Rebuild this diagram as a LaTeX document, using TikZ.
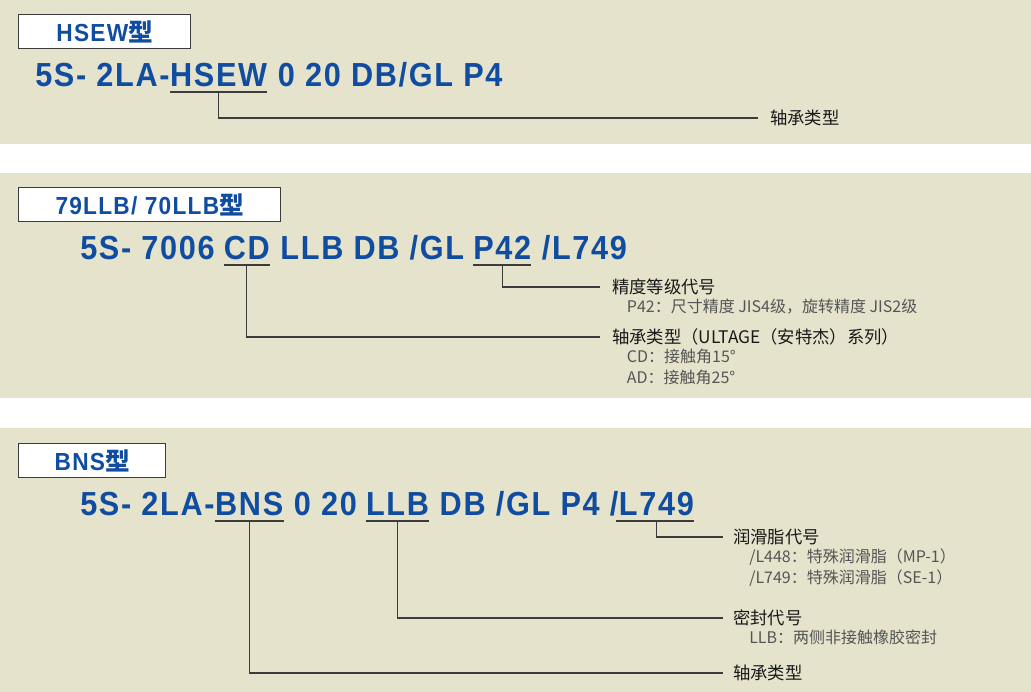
\documentclass[tikz,border=0pt]{standalone}
\usepackage{fontspec}
\usetikzlibrary{positioning}
\newfontfamily\codefont[FakeStretch=0.92,LetterSpace=5]{Liberation Sans}
\newfontfamily\cjk{Noto Sans CJK SC}
\definecolor{panelbg}{RGB}{229,227,204}
\definecolor{codeblue}{RGB}{16,76,160}
\definecolor{leadgray}{RGB}{60,60,60}
\definecolor{subgray}{RGB}{85,85,85}
\newcommand{\xing}{{\cjk\bfseries 型}}

\begin{document}
\begin{tikzpicture}[
    x = 0.75pt, y = -0.75pt,
    panel/.style = {fill = panelbg},
    titlebox/.style = {draw = leadgray, line width = 1pt, fill = white, inner sep = 0pt,
        minimum height = 25.5pt, anchor = north west, text = codeblue,
        font = \codefont\bfseries\fontsize{18.5}{20}\selectfont},
    code/.style = {inner sep = 0pt, anchor = base west, text = codeblue,
        font = \codefont\bfseries\fontsize{25}{28}\selectfont},
    wordgap/.style = {xshift = 6.4pt},
    uline/.style = {draw = leadgray, line width = 0.8pt},
    lead/.style = {draw = leadgray, line width = 0.9pt, shorten > = 9pt},
    lbl/.style = {inner sep = 0pt, anchor = west, text = black!90,
        font = \cjk\fontsize{13}{16}\selectfont},
    subtxt/.style = {inner sep = 0pt, anchor = north west, align = left, text = subgray,
        font = \cjk\fontsize{12}{16}\selectfont}
]
\fill[white] (0,0) rectangle (1031,692);
\fill[panel] (0,0) rectangle (1031,144);
\fill[panel] (0,173) rectangle (1031,398);
\fill[panel] (0,428) rectangle (1031,692);
\useasboundingbox (0,0) rectangle (1031,692);

% HSEW
\node[titlebox, minimum width = 129pt] (hd1) at (18,14) {HSEW\xing};
\node[code] (p1a) at (35,86) {5S- 2LA-};
\node[code] (hsew) at (p1a.base east) {HSEW};
\node[code] (p1b) at (hsew.base east) {\ 0 20 DB/GL P4};
\node[lbl] (type1) at (770,118) {轴承类型};

% 79LLB / 70LLB
\node[titlebox, minimum width = 196.5pt] (hd2) at (18,187) {79LLB/ 70LLB\xing};
\node[code] (p2a) at (80,259) {5S- 7006};
\node[code, wordgap] (cd) at (p2a.base east) {CD};
\node[code] (p2b) at (cd.base east) {\ LLB DB /GL};
\node[code, wordgap] (p42) at (p2b.base east) {P42};
\node[code] (p2c) at (p42.base east) {\ /L749};
\node[lbl] (prec) at (612,287) {精度等级代号};
\node[subtxt] (precsub) at ([xshift = 11pt, yshift = -2.5pt]prec.south west) {P42：尺寸精度 JIS4级，旋转精度 JIS2级};
\node[lbl] (type2) at (612,337) {轴承类型（ULTAGE（安特杰）系列）};
\node[subtxt] (type2sub) at ([xshift = 11pt, yshift = -2.5pt]type2.south west) {CD：接触角15°\\AD：接触角25°};

% BNS
\node[titlebox, minimum width = 110.25pt] (hd3) at (18,443) {BNS\xing};
\node[code] (p3a) at (80,515) {5S- 2LA-};
\node[code] (bns) at (p3a.base east) {BNS};
\node[code] (p3b) at (bns.base east) {\ 0 20};
\node[code, wordgap] (llb) at (p3b.base east) {LLB};
\node[code] (p3c) at (llb.base east) {\ DB /GL P4 /};
\node[code] (l749) at (p3c.base east) {L749};
\node[lbl] (grease) at (733,537) {润滑脂代号};
\node[subtxt] (greasesub) at ([xshift = 12pt, yshift = -2.5pt]grease.south west) {/L448：特殊润滑脂（MP-1）\\/L749：特殊润滑脂（SE-1）};
\node[lbl] (seal) at (733,618) {密封代号};
\node[subtxt] (sealsub) at ([xshift = 12pt, yshift = -2.5pt]seal.south west) {LLB：两侧非接触橡胶密封};
\node[lbl] (type3) at (733,673) {轴承类型};

% underlines
\path[uline]
([yshift = -4.5pt]hsew.base west) edge ([yshift = -4.5pt]hsew.base east)
([yshift = -4.5pt]cd.base west) edge ([yshift = -4.5pt]cd.base east)
([yshift = -4.5pt]p42.base west) edge ([yshift = -4.5pt]p42.base east)
([yshift = -4.5pt]bns.base west) edge ([yshift = -4.5pt]bns.base east)
([yshift = -4.5pt]llb.base west) edge ([yshift = -4.5pt]llb.base east)
([xshift = -2pt, yshift = -4.5pt]l749.base west) edge ([yshift = -4.5pt]l749.base east)
;

% leaders
\draw[lead] ([yshift = -4.5pt]hsew.base) |- (type1.west);
\draw[lead] ([yshift = -4.5pt]p42.base) |- (prec.west);
\draw[lead] ([yshift = -4.5pt]cd.base) |- (type2.west);
\draw[lead, shorten > = 7.5pt] ([yshift = -4.5pt]l749.base) |- (grease.west);
\draw[lead, shorten > = 7.5pt] ([yshift = -4.5pt]llb.base) |- (seal.west);
\draw[lead, shorten > = 7.5pt] ([yshift = -4.5pt]bns.base) |- (type3.west);

\end{tikzpicture}
\end{document}
